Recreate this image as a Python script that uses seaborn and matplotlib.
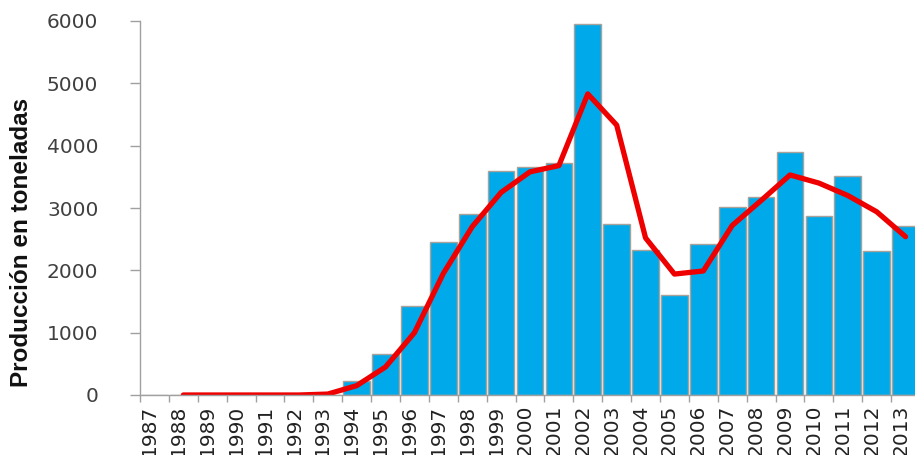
import numpy as np
import pandas as pd
import matplotlib
matplotlib.use("Agg")
import matplotlib.pyplot as plt
import matplotlib.transforms as mtransforms
import seaborn as sns

years = [str(y) for y in range(1987, 2014)]
production = [0, 0, 0, 0, 0, 0, 0, 230, 650, 1420, 2450, 2900, 3600, 3650, 3720,
              5950, 2750, 2320, 1600, 2420, 3010, 3170, 3900, 2870, 3520, 2310, 2710]
trend = [np.nan, 0, 0, 0, 0, 0, 15, 150, 450, 1000, 1950, 2700, 3250, 3580, 3680,
         4830, 4330, 2520, 1940, 1990, 2720, 3120, 3530, 3400, 3200, 2940, 2540]
y_ticks = [0, 1000, 2000, 3000, 4000, 5000, 6000]
y_label = "Producción en toneladas"

sns.set_theme(style="white")
plt.rcParams["font.family"] = ["DejaVu Sans"]

fig = plt.figure(figsize=(9.15, 4.55), dpi=100)
ax = fig.add_axes([140 / 915, 1 - 395 / 455, 780 / 915, (395 - 21) / 455])

df = pd.DataFrame({"year": years, "production": production, "trend": trend,
                   "pos": np.arange(len(years))})

sns.barplot(data=df, x="year", y="production", color="#00AAEA", saturation=1,
            width=0.92, edgecolor="#a8a29a", linewidth=1.0, ax=ax)
sns.lineplot(data=df.dropna(), x="pos", y="trend", color="#EE0000",
             linewidth=3.8, ax=ax, solid_capstyle="round", solid_joinstyle="round")

ax.set_xlim(-0.5, len(years) - 0.5)
ax.set_ylim(0, 6000)
ax.set_yticks(y_ticks)
ax.set_yticklabels([str(v) for v in y_ticks], fontsize=14.5, color="#404040")
ax.set_xlabel("")
ax.set_ylabel(y_label, fontsize=17.5, fontweight="bold", family="Liberation Sans",
              color="#111111")
ax.yaxis.set_label_coords((33 - 140) / 780, (395 - 242) / 374)

ax.set_xticks(np.arange(len(years)))
ax.set_xticklabels(years, rotation=90, fontsize=14.5, color="#222222")
ax.set_xticks(np.arange(len(years) + 1) - 0.5, minor=True)
ax.tick_params(axis="x", which="major", length=0, pad=7)
ax.tick_params(axis="x", which="minor", length=5, color="#a0a0a0", width=1, bottom=True)
ax.tick_params(axis="y", which="major", length=7, color="#a0a0a0", width=1, left=True, pad=23)

offset = mtransforms.ScaledTranslation(-5 / 100, 0, fig.dpi_scale_trans)
for lbl in ax.get_xticklabels():
    lbl.set_transform(lbl.get_transform() + offset)

for side in ["top", "right"]:
    ax.spines[side].set_visible(False)
for side in ["left", "bottom"]:
    ax.spines[side].set_color("#a0a0a0")
    ax.spines[side].set_linewidth(1)

fig.savefig("out.png", dpi=100)
